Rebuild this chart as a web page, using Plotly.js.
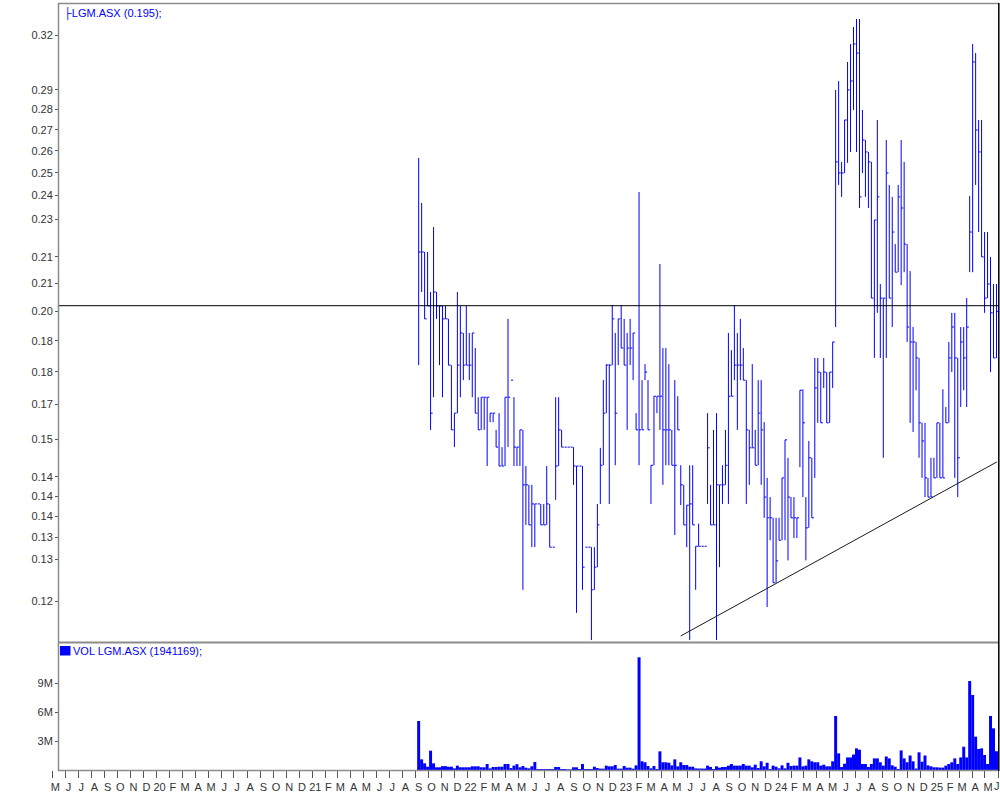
<!DOCTYPE html>
<html>
<head>
<meta charset="utf-8">
<script src="https://cdn.plot.ly/plotly-3.0.1.min.js"></script>
<style>
html,body{margin:0;padding:0;background:#fff;}
#chart{width:1000px;height:795px;}
</style>
</head>
<body>
<div id="chart"></div>
<script>
// ---- Weekly OHLC data for LGM.ASX (first week: 2021-09-08) ----
const firstWeekUTC = [2021, 8, 8];

const high = [
0.2567,0.2368,0.2169,0.2169,0.2019,0.2268,0.2019,0.1969,0.1969,0.1969,
0.1924,0.1771,0.1625,0.2019,0.1969,0.1876,0.1969,0.1876,0.1876,0.1826,
0.1672,0.1672,0.1672,0.1672,0.1625,0.1625,0.1577,0.1625,0.1529,0.1672,
0.1924,0.1724,0.1672,0.1529,0.1577,0.1577,0.1478,0.1429,0.1429,0.1381,
0.1381,0.1381,0.1381,0.1478,0.1381,0.1278,0.1672,0.1672,0.1577,0.1529,
0.1529,0.1529,0.1529,0.1478,0.1478,0.1478,0.1278,0.1278,0.1278,0.1278,
0.1381,0.1527,0.1724,0.1774,0.1774,0.1972,0.1876,0.1924,0.1972,0.1924,
0.1876,0.1924,0.1876,0.1625,0.2415,0.1724,0.1774,0.1724,0.1480,0.1675,
0.1675,0.2123,0.1826,0.1826,0.1774,0.1577,0.1724,0.1675,0.1480,0.1429,
0.1378,0.1480,0.1480,0.1280,0.1333,0.1280,0.1280,0.1625,0.1429,0.1577,
0.1625,0.1429,0.1480,0.1577,0.1876,0.1819,0.1972,0.1876,0.1924,0.1826,
0.1724,0.1577,0.1774,0.1577,0.1724,0.1724,0.1599,0.1447,0.1398,0.1347,
0.1347,0.1347,0.1447,0.1549,0.1500,0.1398,0.1398,0.1347,0.1693,0.1696,
0.1398,0.1546,0.1500,0.1794,0.1794,0.1749,0.1794,0.1749,0.1749,0.1846,
0.2900,0.2947,0.2549,0.2748,0.3049,0.3149,0.3246,0.3293,0.3293,0.2798,
0.2651,0.2595,0.2549,0.2297,0.2748,0.2048,0.1997,0.2651,0.2446,0.2394,
0.2200,0.2446,0.2651,0.2549,0.2200,0.2096,0.1896,0.1846,0.1794,0.1597,
0.1597,0.1447,0.1500,0.1500,0.1597,0.1597,0.1696,0.1643,0.1846,0.1945,
0.1945,0.1794,0.1896,0.1896,0.1997,0.2398,0.3149,0.3098,0.2748,0.2748,
0.2248,0.2248,0.2150,0.2048,0.2048
];

const low = [
0.1771,0.2019,0.1924,0.1969,0.1577,0.1672,0.1924,0.1771,0.1672,0.1924,
0.1771,0.1577,0.1529,0.1625,0.1672,0.1724,0.1771,0.1724,0.1672,0.1625,
0.1577,0.1577,0.1577,0.1478,0.1599,0.1599,0.1529,0.1478,0.1478,0.1478,
0.1529,0.1724,0.1478,0.1478,0.1478,0.1184,0.1330,0.1330,0.1278,0.1278,
0.1381,0.1330,0.1330,0.1330,0.1278,0.1278,0.1391,0.1478,0.1529,0.1529,
0.1529,0.1529,0.1429,0.1136,0.1478,0.1184,0.1278,0.1278,0.1082,0.1184,
0.1233,0.1381,0.1480,0.1625,0.1381,0.1771,0.1480,0.1771,0.1826,0.1771,
0.1577,0.1771,0.1724,0.1577,0.1480,0.1577,0.1724,0.1577,0.1381,0.1480,
0.1625,0.1577,0.1429,0.1480,0.1480,0.1480,0.1306,0.1577,0.1378,0.1330,
0.1278,0.1082,0.1330,0.1184,0.1280,0.1280,0.1280,0.1381,0.1330,0.1330,
0.1082,0.1233,0.1381,0.1429,0.1381,0.1675,0.1724,0.1577,0.1724,0.1724,
0.1381,0.1429,0.1527,0.1480,0.1480,0.1429,0.1347,0.1148,0.1294,0.1199,
0.1199,0.1294,0.1294,0.1294,0.1248,0.1347,0.1299,0.1299,0.1475,0.1398,
0.1248,0.1323,0.1347,0.1447,0.1597,0.1597,0.1700,0.1597,0.1597,0.1700,
0.1896,0.2446,0.2394,0.2499,0.2545,0.2595,0.2798,0.2595,0.2347,0.2499,
0.2394,0.2347,0.1997,0.1794,0.1945,0.1794,0.1500,0.1794,0.1997,0.1896,
0.2092,0.2092,0.2044,0.2092,0.1846,0.1597,0.1571,0.1693,0.1500,0.1447,
0.1398,0.1398,0.1398,0.1447,0.1447,0.1447,0.1447,0.1597,0.1597,0.1749,
0.1447,0.1398,0.1643,0.1693,0.1643,0.2092,0.2092,0.2446,0.2248,0.2150,
0.1945,0.1997,0.1749,0.1794,0.1794
];

const close = [
0.2169,0.2169,0.1924,0.1969,0.1625,0.2019,0.1969,0.1969,0.1924,0.1924,
0.1771,0.1577,0.1625,0.1771,0.1876,0.1771,0.1771,0.1771,0.1876,0.1625,
0.1577,0.1672,0.1672,0.1672,0.1625,0.1625,0.1529,0.1478,0.1478,0.1672,
0.1672,0.1724,0.1529,0.1529,0.1577,0.1429,0.1429,0.1330,0.1381,0.1381,
0.1381,0.1330,0.1330,0.1381,0.1278,0.1278,0.1478,0.1577,0.1529,0.1529,
0.1529,0.1529,0.1478,0.1478,0.1478,0.1233,0.1278,0.1278,0.1184,0.1233,
0.1330,0.1480,0.1625,0.1771,0.1771,0.1924,0.1625,0.1924,0.1826,0.1771,
0.1826,0.1826,0.1876,0.1577,0.1577,0.1577,0.1749,0.1577,0.1480,0.1675,
0.1675,0.1675,0.1577,0.1577,0.1577,0.1480,0.1480,0.1577,0.1429,0.1330,
0.1378,0.1381,0.1330,0.1280,0.1280,0.1280,0.1280,0.1527,0.1330,0.1330,
0.1429,0.1429,0.1429,0.1480,0.1675,0.1675,0.1771,0.1771,0.1771,0.1724,
0.1577,0.1527,0.1527,0.1480,0.1625,0.1577,0.1398,0.1347,0.1347,0.1199,
0.1247,0.1294,0.1447,0.1549,0.1398,0.1347,0.1347,0.1347,0.1693,0.1597,
0.1323,0.1500,0.1347,0.1700,0.1749,0.1597,0.1749,0.1597,0.1749,0.1846,
0.2549,0.2499,0.2499,0.2748,0.2900,0.2947,0.3149,0.3098,0.2394,0.2651,
0.2595,0.2549,0.1997,0.2297,0.2394,0.1997,0.1997,0.2499,0.1997,0.2248,
0.2092,0.2394,0.2347,0.2200,0.1896,0.1846,0.1846,0.1794,0.1597,0.1546,
0.1447,0.1398,0.1398,0.1447,0.1597,0.1447,0.1447,0.1597,0.1794,0.1896,
0.1794,0.1500,0.1846,0.1794,0.1896,0.2248,0.3049,0.2699,0.2595,0.2150,
0.1997,0.2048,0.1945,0.1794,0.195
];

// weekly volume, millions of shares
const volumeM = [
5.07,1.1,0.69,0.34,2.0,0.69,0.28,0.28,0.4,0.4,
0.34,0.34,0.17,0.45,0.28,0.28,0.28,0.28,0.38,0.38,
0.38,0.28,0.28,0.62,0.17,0.31,0.31,0.34,0.34,0.62,
0.62,0.2,0.45,0.6,0.28,0.41,0.24,0.17,0.38,0.83,
0.1,0.1,0.1,0.1,0.1,0.1,0.31,0.31,0.1,0.1,
0.07,0.07,0.28,0.28,0.1,0.62,0.1,0.1,0.1,0.34,
0.2,0.14,0.14,0.45,0.38,0.38,0.52,0.14,0.14,0.41,
0.24,0.24,0.14,0.48,11.66,0.9,0.8,0.41,0.17,0.41,
0.1,1.93,0.8,0.8,0.75,0.48,1.1,0.38,0.8,0.52,
0.52,0.34,0.34,0.17,0.15,0.15,0.15,0.45,0.31,0.1,
0.38,0.24,0.31,0.31,0.45,0.62,0.45,0.45,0.45,0.62,
0.45,0.45,0.28,0.55,0.2,0.9,0.38,0.75,0.1,0.45,
0.34,0.17,0.48,0.17,0.75,0.41,0.45,0.45,1.3,0.38,
0.45,1.1,0.9,0.8,0.8,0.45,0.55,0.38,0.38,0.9,
5.59,1.72,0.31,0.65,1.3,1.3,1.6,2.24,2.1,0.62,
0.62,0.31,0.62,1.2,1.2,0.8,0.45,1.4,1.2,0.48,
0.34,0.1,2.03,1.2,0.8,1.5,0.9,0.15,1.83,0.86,
1.5,0.48,0.38,0.28,0.28,0.25,0.25,0.45,0.62,0.8,
1.2,0.62,1.3,2.41,1.3,9.2,7.76,3.45,2.17,2.24,
1.55,0.62,5.59,4.31,1.941169
];

// horizontal level and trend line drawn on the chart
const levelPrice = 0.197;
const levelDates = ['2019-05-14', '2025-06-02 22:00'];
const trendDates = ['2023-05-17', '2025-05-29'];
const trendPrices = [0.1090, 0.1489];

// axis tick labels
const priceTickVals = [0.32,0.29,0.28,0.27,0.26,0.25,0.24,0.23,0.215,0.205,0.195,0.185,0.175,0.165,0.155,0.145,0.14,0.135,0.13,0.125,0.116];
const priceTickText = ['0.32','0.29','0.28','0.27','0.26','0.25','0.24','0.23','0.21','0.21','0.20','0.18','0.18','0.17','0.15','0.14','0.14','0.14','0.13','0.13','0.12'];
const volTickVals = [3, 6, 9];
const volTickText = ['3M', '6M', '9M'];
const monthTickText = [
'M','J','J','A','S','O','N','D',
'20','F','M','A','M','J','J','A','S','O','N','D',
'21','F','M','A','M','J','J','A','S','O','N','D',
'22','F','M','A','M','J','J','A','S','O','N','D',
'23','F','M','A','M','J','J','A','S','O','N','D',
'24','F','M','A','M','J','J','A','S','O','N','D',
'25','F','M','A','M','J'
];

// ---- build ----
const DAY = 864e5;
function fmt(ms){ return new Date(ms).toISOString().slice(0,16).replace('T',' '); }
const t0 = Date.UTC(firstWeekUTC[0], firstWeekUTC[1], firstWeekUTC[2]);
const weekMs = high.map((_, i) => t0 + i*7*DAY);
const dates = weekMs.map(fmt);
const monthTicks = monthTickText.map((_, k) => fmt(Date.UTC(2019, 4 + k, 1)));
// the last month label sits at the right edge; it is drawn as an annotation so it is not clipped
const axisTickText = monthTickText.map((t, k) => k === monthTickText.length - 1 ? '' : t);
const lastMonthLabel = monthTickText[monthTickText.length - 1];

const segX = [], segY = [];
for (let i = 0; i < high.length; i++) {
  const d = dates[i], dr = fmt(weekMs[i] + 5*DAY);
  segX.push(d, d, null, d, dr, null);
  segY.push(low[i], high[i], null, close[i], close[i], null);
}

// pixel -> paper helpers for the frame (plot area x 52..999, y 4..770)
const L = 52, W = 947, B = 770, H = 766;
const px = v => (v - L) / W;
const py = v => (B - v) / H;

const BLUE = '#0000ff';
const GRAY = '#8c8c8c';
const FONT = 'Liberation Sans, Arial, sans-serif';

const traces = [
  {type:'scatter', mode:'lines', x:segX, y:segY, xaxis:'x', yaxis:'y',
   line:{color:BLUE, width:1}, hoverinfo:'skip'},
  {type:'scatter', mode:'lines', x:levelDates, y:[levelPrice, levelPrice], xaxis:'x', yaxis:'y',
   line:{color:'#000', width:1}, hoverinfo:'skip'},
  {type:'scatter', mode:'lines', x:trendDates, y:trendPrices, xaxis:'x', yaxis:'y',
   line:{color:'#1a1a1a', width:1}, hoverinfo:'skip'},
  {type:'bar', x:dates, y:volumeM, width:7*DAY, xaxis:'x', yaxis:'y2',
   marker:{color:BLUE, line:{width:0}}, hoverinfo:'skip'}
];

const layout = {
  width:1000, height:795,
  margin:{l:L, r:1000 - L - W, t:4, b:795 - B, pad:0},
  paper_bgcolor:'#fff', plot_bgcolor:'#fff',
  showlegend:false,
  font:{family:FONT, size:11, color:'#333'},
  xaxis:{
    type:'date', range:['2019-04-30 07:00', '2025-06-02 22:00'], anchor:'y2',
    showgrid:false, zeroline:false, showline:false,
    tickmode:'array', tickvals:monthTicks, ticktext:axisTickText,
    ticks:'outside', ticklen:7, tickwidth:1, tickcolor:'#555',
    tickangle:0, ticklabelshift:3,
    tickfont:{family:FONT, size:11, color:'#333'}
  },
  yaxis:{
    type:'log', domain:[py(641), 1],
    range:[Math.log10(0.108019), Math.log10(0.33828)],
    anchor:'free', position:px(58),
    showgrid:false, zeroline:false, showline:false,
    tickmode:'array', tickvals:priceTickVals, ticktext:priceTickText,
    ticks:'outside', ticklen:3, tickwidth:1, tickcolor:'#555',
    tickfont:{family:FONT, size:11, color:'#333'}
  },
  yaxis2:{
    domain:[0, py(644)], range:[0, 13.034],
    anchor:'free', position:px(58),
    showgrid:false, zeroline:false, showline:false,
    tickmode:'array', tickvals:volTickVals, ticktext:volTickText,
    ticks:'outside', ticklen:3, tickwidth:1, tickcolor:'#555',
    tickfont:{family:FONT, size:11, color:'#333'}
  },
  shapes:[
    {type:'line', xref:'paper', yref:'paper', x0:px(58), x1:px(999), y0:py(3.5), y1:py(3.5), line:{color:GRAY, width:1.5}},
    {type:'line', xref:'paper', yref:'paper', x0:px(58), x1:px(999), y0:py(642.5), y1:py(642.5), line:{color:GRAY, width:2}},
    {type:'line', xref:'paper', yref:'paper', x0:px(58), x1:px(999), y0:py(770.5), y1:py(770.5), line:{color:GRAY, width:1.5}},
    {type:'line', xref:'paper', yref:'paper', x0:px(58.5), x1:px(58.5), y0:py(3), y1:py(771), line:{color:GRAY, width:1.5}},
    {type:'line', xref:'paper', yref:'paper', x0:px(998.8), x1:px(998.8), y0:py(3), y1:py(771), line:{color:'#000', width:1.5}},
    {type:'rect', xref:'paper', yref:'paper', x0:px(60), x1:px(70.5), y0:py(655.5), y1:py(646), fillcolor:BLUE, line:{width:0}}
  ],
  annotations:[
    {xref:'paper', yref:'paper', x:px(62), y:py(13), xanchor:'left', yanchor:'middle', showarrow:false,
     text:'├LGM.ASX (0.195);', font:{family:FONT, size:11, color:BLUE}},
    {xref:'paper', yref:'paper', x:px(71), y:py(651), xanchor:'left', yanchor:'middle', showarrow:false,
     text:'VOL LGM.ASX (1941169);', font:{family:FONT, size:11, color:BLUE}},
    {xref:'paper', yref:'paper', x:px(996.8), y:py(786), xanchor:'center', yanchor:'middle', showarrow:false,
     borderpad:0, text:lastMonthLabel, font:{family:FONT, size:11, color:'#333'}}
  ]
};

Plotly.newPlot('chart', traces, layout, {staticPlot:true, displayModeBar:false});
</script>
</body>
</html>
